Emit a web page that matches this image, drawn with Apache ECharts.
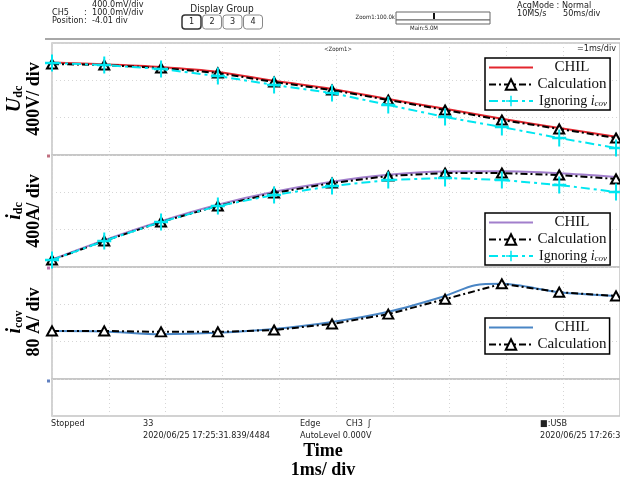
<!DOCTYPE html>
<html><head><meta charset="utf-8">
<script src="https://cdn.jsdelivr.net/npm/echarts@6/dist/echarts.min.js"></script>
<style>html,body{margin:0;padding:0;background:#fff}#c{width:620px;height:481px}</style>
</head><body><div id="c"></div>
<script>
// ---------- data (time in ms, 1 ms/div) ----------
const timeMs      = [0, 0.92, 1.92, 2.92, 3.91, 4.93, 5.92, 6.92, 7.92, 8.93, 9.93];
// Udc (V), 400 V/div
const udcChil     = [990, 972, 942, 890, 795, 708, 600, 495, 388, 290, 195];
const udcCalc     = [975, 964, 932, 879, 782, 696, 589, 482, 375, 279, 182];
const udcIgnoring = [986, 964, 921, 846, 750, 664, 536, 407, 300, 182, 75];
// idc (A), 400 A/div
const idcChil     = [80, 288, 492, 668, 806, 914, 988, 1022, 1025, 1004, 965];
const idcCalc     = [75, 279, 482, 654, 793, 900, 975, 1007, 1007, 986, 943];
const idcIgnoring = [75, 279, 482, 654, 771, 868, 932, 954, 932, 879, 804];
// icov (A), 80 A/div
const icovChilTime = [0, 0.92, 1.92, 2.92, 3.91, 4.93, 5.92, 6.92, 7.45, 7.92, 8.93, 9.93];
const icovChil     = [103, 102, 96, 99, 107, 122, 144, 178, 201, 204, 186, 178];
const icovCalc     = [103, 103, 101, 101, 105, 118, 139, 171, 204, 186, 178];

const legendNames = {
  uChil: 'CHIL', uCalc: 'Calculation', uIgn: 'Ignoring',
  iChil: 'CHIL', iCalc: 'Calculation', iIgn: 'Ignoring',
  cChil: 'CHIL', cCalc: 'Calculation'
};

const zip = (t, v) => t.map((x, i) => [x, v[i]]);
const SERIF = 'Liberation Serif';
const SCOPE = 'DejaVu Sans Condensed, Liberation Sans Narrow, DejaVu Sans, sans-serif';
const CYAN = '#00e6f0';
const PLUS = 'path://M6,0H8V6H14V8H8V14H6V8H0V6H6Z';

function chil(name, gi, data, color) {
  return {name, type: 'line', xAxisIndex: gi, yAxisIndex: gi, data, smooth: 0.3,
    symbol: 'circle', showSymbol: false, symbolSize: 1,
    lineStyle: {color, width: 2}, itemStyle: {color: 'rgba(0,0,0,0)'}, z: 2};
}
function calc(name, gi, data) {
  return {name, type: 'line', xAxisIndex: gi, yAxisIndex: gi, data,
    symbol: 'triangle', symbolSize: [10, 9],
    lineStyle: {color: '#000', width: 2, type: [7, 3, 2, 3]},
    itemStyle: {color: '#fff', borderColor: '#000', borderWidth: 2}, z: 3};
}
function ign(name, gi, data) {
  return {name, type: 'line', xAxisIndex: gi, yAxisIndex: gi, data,
    symbol: PLUS, symbolSize: [14, 17],
    lineStyle: {color: CYAN, width: 2, type: [9, 4, 3, 4]},
    itemStyle: {color: CYAN}, z: 4};
}

const gridTops = [43, 155, 267, 379];
const gridHeights = [112, 112, 112, 37];
const yMax = [1200, 1200, 240, 1];
const yInt = [400, 400, 80, 1];

const grids = gridTops.map((t, i) => ({left: 52, right: 0, top: t, height: gridHeights[i],
  show: true, borderColor: '#c4c4c4', borderWidth: 1.5}));
const dotted = {show: true, lineStyle: {color: '#d6d6d6', type: [1, 3], width: 1}};
const xAxes = gridTops.map((t, i) => ({gridIndex: i, type: 'value', min: 0, max: 10, interval: 1,
  axisLabel: {show: false}, axisTick: {show: false}, axisLine: {show: false}, splitLine: dotted}));
const yAxes = gridTops.map((t, i) => ({gridIndex: i, type: 'value', min: 0, max: yMax[i], interval: yInt[i],
  axisLabel: {show: false}, axisTick: {show: false}, axisLine: {show: false},
  splitLine: i === 3 ? {show: false} : dotted}));

const legendText = {
  fontFamily: SERIF, fontSize: 15, color: '#111',
  rich: {
    c: {fontFamily: SERIF, fontSize: 15, width: 68, align: 'center', color: '#111'},
    n: {fontFamily: SERIF, fontSize: 14, color: '#111', padding: [0, 0, 0, 1]},
    i: {fontFamily: SERIF, fontSize: 14, fontStyle: 'italic', color: '#111'},
    s: {fontFamily: SERIF, fontSize: 9, fontStyle: 'italic', color: '#111', verticalAlign: 'bottom', padding: [5, 0, 0, 0]}
  }
};
function fmt(name) {
  const t = legendNames[name];
  if (t === 'Ignoring') return '{n|Ignoring }{i|i}{s|cov}';
  return '{c|' + t + '}';
}
function legend(top, data) {
  return {show: true, orient: 'vertical', left: 485, top, data, formatter: fmt, selectedMode: false,
    itemWidth: 44, itemHeight: 13, itemGap: 2, padding: [2, 3, 2, 3],
    borderColor: '#000', borderWidth: 1.5, borderRadius: 0, backgroundColor: '#fff',
    textStyle: legendText};
}

function txt(x, y, text, o) {
  o = o || {};
  return {type: 'text', x, y, z: 100, style: Object.assign({text, fill: '#222', font: '9px ' + SCOPE,
    align: 'left', verticalAlign: 'middle'}, o)};
}
function sideLabel(y, sym, sub, unit) {
  return {type: 'text', x: 24, y, rotation: Math.PI / 2, z: 100,
    style: {text: '{a|' + sym + '}{b|' + sub + '}\n{u|' + unit + '}', align: 'center', verticalAlign: 'middle',
      rich: {
        a: {fontFamily: SERIF, fontSize: 20, fontWeight: 'bold', fontStyle: 'italic', fill: '#000', align: 'center'},
        b: {fontFamily: SERIF, fontSize: 12, fontWeight: 'bold', fill: '#000', align: 'center', verticalAlign: 'bottom', padding: [6, 0, 0, 0]},
        u: {fontFamily: SERIF, fontSize: 18, fontWeight: 'bold', fill: '#000', align: 'center'}
      }}};
}
function groundMark(y, color) {
  return {type: 'rect', z: 100, shape: {x: 47, y: y - 1.5, width: 3, height: 3}, style: {fill: color}};
}

const graphic = [
  // header
  txt(92, 5, '400.0mV/div'),
  txt(52, 13, 'CH5'), txt(84, 13, ':'), txt(92, 13, '100.0mV/div'),
  txt(52, 21, 'Position'), txt(84, 21, ':'), txt(92, 21, '-4.01 div'),
  txt(222, 9, 'Display Group', {align: 'center', font: '10px ' + SCOPE}),
  ...[0, 1, 2, 3].map(k => ({type: 'rect', z: 100, shape: {x: 182 + k * 20.5, y: 15, width: 19, height: 14, r: 3},
    style: {fill: '#fff', stroke: k === 0 ? '#333' : '#888', lineWidth: k === 0 ? 1.5 : 1}})),
  ...[0, 1, 2, 3].map(k => txt(191.5 + k * 20.5, 22, String(k + 1), {align: 'center', font: '9px ' + SCOPE})),
  txt(395, 17, 'Zoom1:100.0k', {align: 'right', font: '6px ' + SCOPE}),
  {type: 'rect', z: 100, shape: {x: 396, y: 12, width: 94, height: 8}, style: {fill: '#fff', stroke: '#666', lineWidth: 1}},
  {type: 'rect', z: 100, shape: {x: 396, y: 20, width: 94, height: 4}, style: {fill: '#fff', stroke: '#666', lineWidth: 1}},
  {type: 'rect', z: 101, shape: {x: 433, y: 13, width: 2, height: 6}, style: {fill: '#111'}},
  txt(424, 28, 'Main:5.0M', {align: 'center', font: '6px ' + SCOPE}),
  txt(517, 6, 'AcqMode : Normal'),
  txt(517, 14, '10MS/s'), txt(563, 14, '50ms/div'),
  {type: 'rect', z: 100, shape: {x: 45, y: 38, width: 575, height: 2}, style: {fill: '#a8a8a8'}},
  txt(338, 49, '<Zoom1>', {align: 'center', font: '6px ' + SCOPE}),
  txt(616, 49, '=1ms/div', {align: 'right', font: '9px ' + SCOPE}),
  groundMark(156, '#c07080'), groundMark(268, '#c070b0'), groundMark(381, '#6080c0'),
  // footer
  txt(51, 424, 'Stopped'),
  txt(143, 424, '33'), txt(143, 436, '2020/06/25 17:25:31.839/4484'),
  txt(300, 424, 'Edge'), txt(346, 424, 'CH3  \u0283'),
  txt(300, 436, 'AutoLevel 0.000V'),
  txt(540, 424, '\u25A0:USB'), txt(540, 436, '2020/06/25 17:26:34'),
  txt(323, 451, 'Time', {align: 'center', font: 'bold 18px ' + SERIF, fill: '#000'}),
  txt(323, 470, '1ms/ div', {align: 'center', font: 'bold 18px ' + SERIF, fill: '#000'}),
  // side labels
  sideLabel(99, 'U', 'dc', '400V/ div'),
  sideLabel(211, 'i', 'dc', '400A/ div'),
  sideLabel(322, 'i', 'cov', '80 A/ div')
];

const option = {
  animation: false,
  backgroundColor: '#fff',
  grid: grids, xAxis: xAxes, yAxis: yAxes,
  legend: [
    legend(58, ['uChil', 'uCalc', 'uIgn']),
    legend(213, ['iChil', 'iCalc', 'iIgn']),
    legend(318, ['cChil', 'cCalc'])
  ],
  series: [
    chil('uChil', 0, zip(timeMs, udcChil), '#e3262e'),
    calc('uCalc', 0, zip(timeMs, udcCalc)),
    ign('uIgn', 0, zip(timeMs, udcIgnoring)),
    chil('iChil', 1, zip(timeMs, idcChil), '#a27fcc'),
    calc('iCalc', 1, zip(timeMs, idcCalc)),
    ign('iIgn', 1, zip(timeMs, idcIgnoring)),
    chil('cChil', 2, zip(icovChilTime, icovChil), '#4a86c5'),
    calc('cCalc', 2, zip(timeMs, icovCalc))
  ],
  graphic
};
echarts.init(document.getElementById('c'), null, {renderer: 'canvas'}).setOption(option);
</script></body></html>
